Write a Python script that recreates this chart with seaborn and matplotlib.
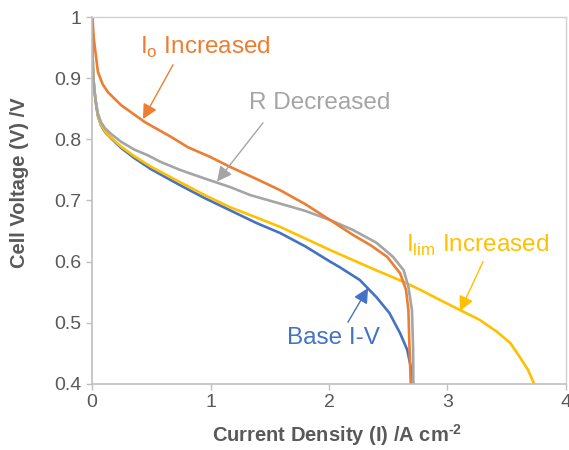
import matplotlib
matplotlib.use('Agg')
import matplotlib.pyplot as plt
import seaborn as sns
import pandas as pd

# Кривые поляризации
base_x = [0.005, 0.006, 0.01, 0.02, 0.035, 0.05, 0.076, 0.11, 0.16, 0.245, 0.36, 0.5, 0.743,
          0.95, 1.165, 1.39, 1.586, 1.8, 2.01, 2.09, 2.26, 2.40, 2.51, 2.60, 2.66, 2.69, 2.71]
base_y = [0.972, 0.93, 0.905, 0.88, 0.856, 0.838, 0.823, 0.812, 0.802, 0.786, 0.769, 0.751,
          0.725, 0.704, 0.684, 0.663, 0.647, 0.625, 0.600, 0.591, 0.570, 0.542, 0.516, 0.483,
          0.456, 0.428, 0.40]

i0_x = [0.004, 0.008, 0.015, 0.025, 0.05, 0.09, 0.135, 0.245, 0.447, 0.667, 0.81, 1.0, 1.165,
        1.39, 1.586, 1.80, 2.01, 2.20, 2.35, 2.49, 2.60, 2.65, 2.67, 2.68, 2.69]
i0_y = [1.0, 0.985, 0.965, 0.949, 0.91, 0.89, 0.877, 0.856, 0.828, 0.804, 0.787, 0.771, 0.755,
        0.735, 0.717, 0.694, 0.668, 0.644, 0.627, 0.608, 0.581, 0.554, 0.521, 0.456, 0.40]

r_x = [0.005, 0.006, 0.01, 0.02, 0.035, 0.05, 0.076, 0.11, 0.16, 0.245, 0.36, 0.47, 0.58,
       0.743, 0.95, 1.165, 1.333, 1.586, 1.80, 2.01, 2.20, 2.40, 2.54, 2.63, 2.67, 2.70,
       2.71, 2.712]
r_y = [0.972, 0.93, 0.905, 0.88, 0.858, 0.842, 0.828, 0.818, 0.809, 0.796, 0.783, 0.774,
       0.763, 0.750, 0.736, 0.722, 0.709, 0.695, 0.683, 0.668, 0.652, 0.631, 0.608, 0.586,
       0.559, 0.521, 0.456, 0.40]

ilim_x = [0.005, 0.006, 0.01, 0.02, 0.035, 0.05, 0.076, 0.11, 0.16, 0.245, 0.36, 0.5, 0.743,
          0.95, 1.165, 1.39, 1.586, 2.01, 2.35, 2.63, 2.77, 2.94, 3.105, 3.27, 3.42, 3.53,
          3.61, 3.68, 3.72, 3.73]
ilim_y = [0.972, 0.93, 0.905, 0.88, 0.857, 0.839, 0.824, 0.813, 0.803, 0.788, 0.772, 0.755,
          0.730, 0.709, 0.689, 0.672, 0.657, 0.619, 0.590, 0.567, 0.554, 0.537, 0.521, 0.505,
          0.485, 0.467, 0.444, 0.423, 0.405, 0.40]

series = [
    ("Base I-V", base_x, base_y, "#4472C4"),
    ("Ilim Increased", ilim_x, ilim_y, "#FFC000"),
    ("R Decreased", r_x, r_y, "#A5A5A5"),
    ("I0 Increased", i0_x, i0_y, "#ED7D31"),
]

sns.set_style("white")
plt.rcParams['font.family'] = ['Liberation Sans', 'DejaVu Sans']
plt.rcParams['mathtext.fontset'] = 'custom'
plt.rcParams['mathtext.rm'] = 'Liberation Sans'
plt.rcParams['mathtext.bf'] = 'Liberation Sans:bold'

fig = plt.figure(figsize=(5.69, 4.5), dpi=100)
ax = fig.add_axes([0.1617, 0.1467, 0.8330, 0.8155])

for name, xs, ys, color in series:
    df = pd.DataFrame({"x": xs, "y": ys})
    sns.lineplot(data=df, x="x", y="y", ax=ax, color=color, linewidth=1.9,
                 estimator=None, sort=False)

ax.set_xlim(0, 4)
ax.set_ylim(0.4, 1.0)
ax.set_xticks([0, 1, 2, 3, 4])
ax.set_xticklabels(["0", "1", "2", "3", "4"])
ax.set_yticks([0.4, 0.5, 0.6, 0.7, 0.8, 0.9, 1.0])
ax.set_yticklabels(["0.4", "0.5", "0.6", "0.7", "0.8", "0.9", "1"])

gray_txt = "#595959"
ax.tick_params(axis='both', labelsize=14, colors="#BFBFBF", labelcolor=gray_txt,
               length=4, width=1, direction='out', bottom=True, left=True)
ax.set_xlabel("Current Density (I) /A cm$^{\\mathbf{\u2010 2}}$", fontsize=14.5,
              fontweight='bold', color=gray_txt)
ax.set_ylabel("Cell Voltage (V) /V", fontsize=14.5, fontweight='bold', color=gray_txt)
ax.xaxis.set_label_coords(0.517, -0.103)
ax.yaxis.set_label_coords(-0.133, 0.548)

for side in ['left', 'bottom']:
    ax.spines[side].set_color("#BFBFBF")
    ax.spines[side].set_linewidth(1.2)
for side in ['top', 'right']:
    ax.spines[side].set_color("#D0D0D0")
    ax.spines[side].set_linewidth(1.0)

# подписи и стрелки
labels = [
    (r"I$_{\mathregular{o}}$ Increased", (0.954, 0.951), (0.684, 0.922), (0.43, 0.833), "#ED7D31"),
    ("R Decreased", (1.924, 0.859), (1.443, 0.827), (1.055, 0.731), "#A5A5A5"),
    (r"I$_{\mathregular{lim}}$ Increased", (3.257, 0.627), (3.30, 0.600), (3.105, 0.519), "#FFC000"),
    ("Base I-V", (2.034, 0.475), (2.16, 0.501), (2.33, 0.557), "#4472C4"),
]
for txt, pos, tail, tip, color in labels:
    ax.text(pos[0], pos[1], txt, color=color, fontsize=17.5, ha='center', va='center')
    ax.annotate("", xy=tip, xytext=tail,
                arrowprops=dict(arrowstyle='-|>,head_length=0.6,head_width=0.3',
                                color=color, lw=1.0, mutation_scale=15,
                                shrinkA=0, shrinkB=0))

plt.savefig("out.png", dpi=100)
plt.close()
